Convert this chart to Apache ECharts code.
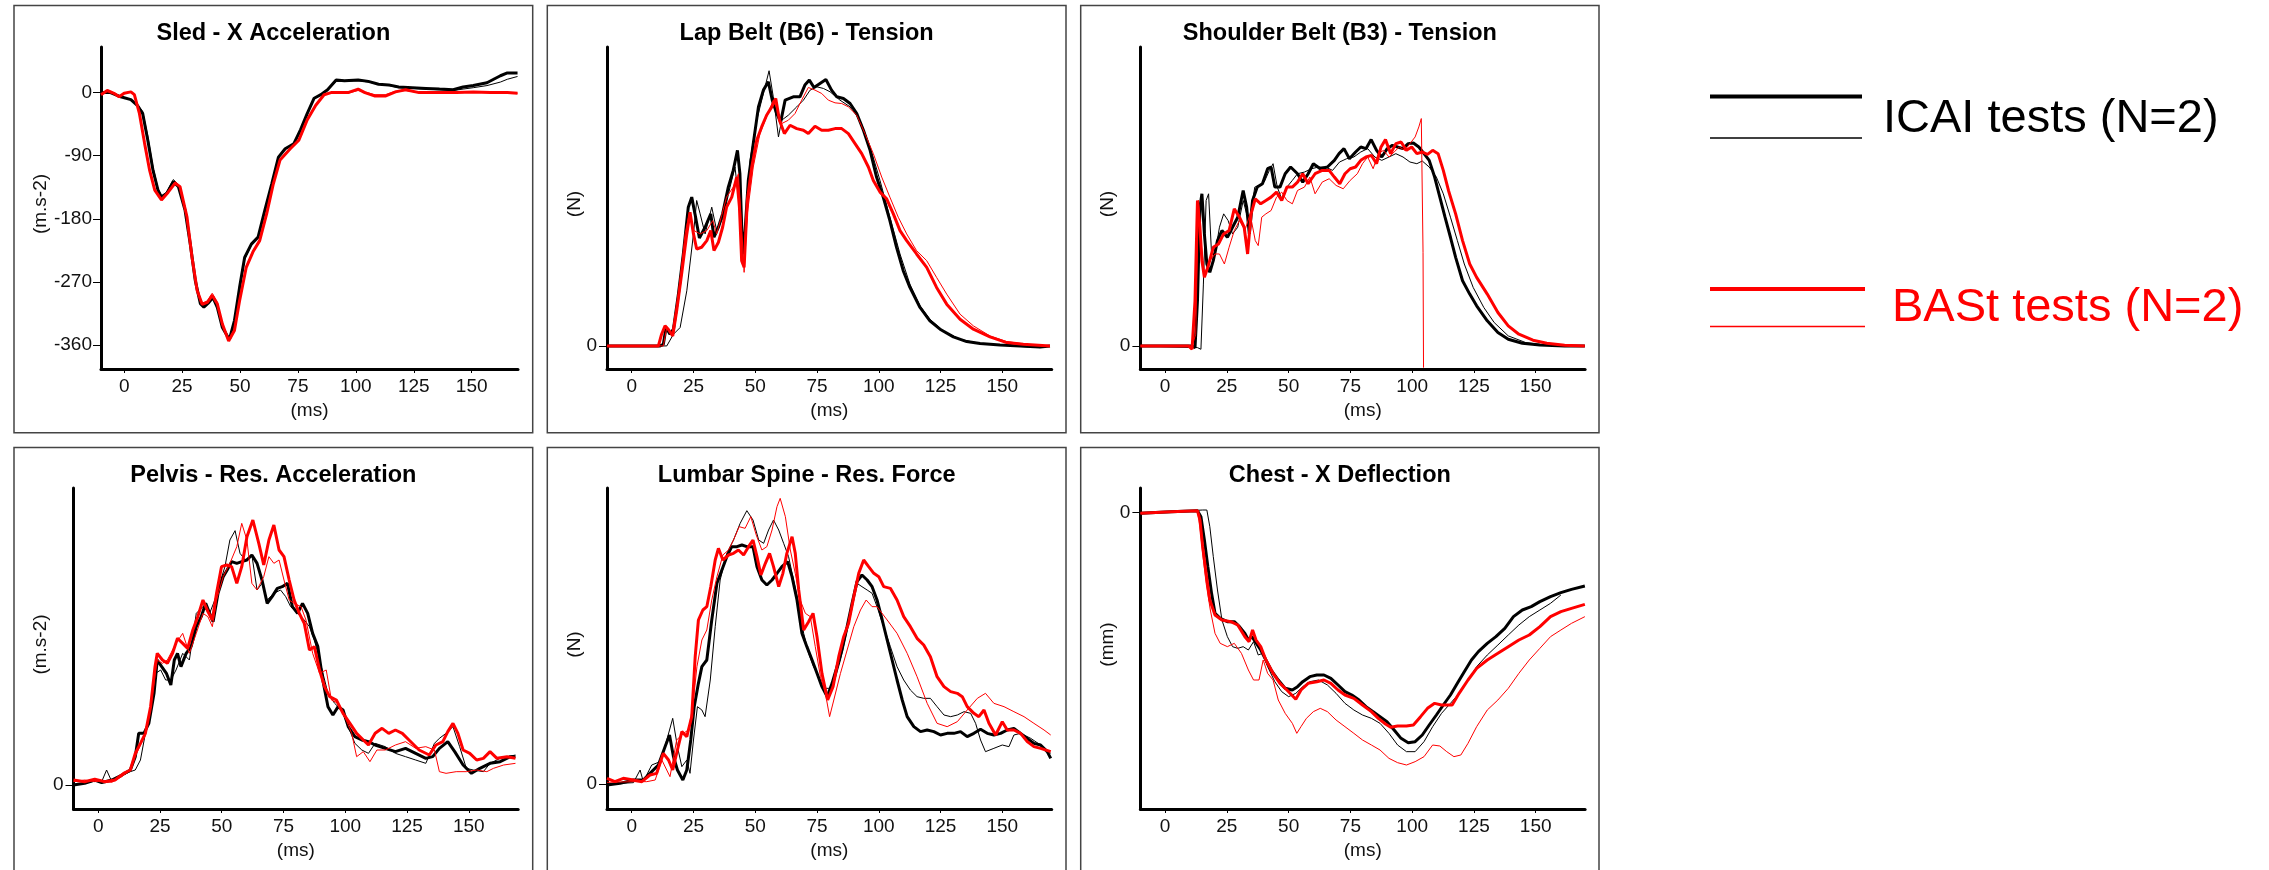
<!DOCTYPE html>
<html>
<head>
<meta charset="utf-8">
<script src="https://cdn.jsdelivr.net/npm/echarts@6/dist/echarts.min.js"></script>
<style>html,body{margin:0;padding:0;background:#fff}#c{width:2269px;height:870px}</style>
</head>
<body>
<div id="c"></div>
<script>
// ---------------- DATA (time in ms, value in panel units) ----------------
const xTickValues = [0, 25, 50, 75, 100, 125, 150];
const sledTickValues = [0, -90, -180, -270, -360];
const zeroTick = [0];

// Sled - X Acceleration (m.s-2)
const sledIcai1 = [[-10,0],[-5.9,0],[-1.5,-6],[2.9,-10],[5.9,-19],[8,-30],[10.2,-68],[12.4,-110],[14.6,-139],[16.1,-149],[18.3,-144],[21.2,-127],[23.4,-134],[26.3,-168],[28.5,-215],[30.7,-268],[32.9,-301],[34.4,-306],[36.6,-299],[38.3,-292],[40.2,-306],[42.4,-335],[45.4,-352],[47.6,-325],[49.8,-278],[52,-235],[54.9,-216],[57.8,-206],[60.7,-168],[63.7,-130],[66.6,-92],[69.5,-80],[73.2,-73],[76.1,-53],[79,-30],[82,-8],[84.9,-3],[87.8,4],[91.5,18],[95.1,17],[101,18],[105.4,16],[109.8,12],[114.2,11],[118.5,8],[124.4,7],[130.3,6],[136.1,5],[142,4],[146.3,8],[150.7,10],[156.6,14],[162.4,24],[165.4,28],[169.8,28]];
const sledIcai2 = [[-10,0],[-5.9,0],[-1.5,-5],[2.9,-10],[5.9,-18],[8,-27],[10.2,-62],[12.4,-105],[14.6,-137],[16.1,-147],[18.3,-142],[21.2,-124],[23.4,-131],[26.3,-165],[28.5,-210],[30.7,-264],[32.9,-299],[34.4,-305],[36.6,-297],[38.3,-289],[40.2,-304],[42.4,-333],[45.4,-352],[47.6,-328],[49.8,-283],[52,-238],[54.9,-217],[57.8,-207],[60.7,-170],[63.7,-131],[66.6,-93],[69.5,-80],[73.2,-73],[76.1,-55],[79,-31],[82,-9],[84.9,-3],[87.8,3],[91.5,16],[95.1,16],[101,17],[105.4,15],[109.8,12],[114.2,10],[118.5,7],[124.4,6],[130.3,5],[136.1,4],[142,3],[146.3,5],[150.7,7],[156.6,10],[162.4,15],[165.4,19],[169.8,23]];
const sledBast1 = [[-10,-3],[-7.3,3],[-4.4,-1],[-2.2,-6],[0,-1],[2.9,1],[4.4,-3],[6.6,-30],[8.8,-72],[11,-111],[13.2,-139],[16.1,-153],[19,-142],[22,-129],[24.1,-134],[27.1,-177],[29.3,-235],[31.5,-282],[33.7,-302],[35.9,-299],[38,-289],[40.2,-301],[42.4,-330],[45.1,-354],[47.6,-339],[49.8,-297],[52.7,-249],[55.6,-227],[58.5,-211],[61.5,-173],[64.4,-130],[67.3,-96],[71.7,-80],[75.4,-68],[79,-39],[82.7,-18],[86.3,-3],[89.3,0],[92.2,0],[96.6,0],[101,5],[103.9,0],[108.3,-5],[112.7,-5],[117.1,1],[121.5,4],[127.3,0],[136.1,0],[143.4,0],[150.7,1],[158,0],[165.4,0],[169.8,-1]];
const sledBast2 = [[-10,-2],[-7.3,2],[-4.4,-2],[-2.2,-5],[0,-1],[2.9,1],[4.4,-2],[6.6,-28],[8.8,-70],[11,-109],[13.2,-138],[16.1,-151],[19,-141],[22,-127],[24.1,-133],[27.1,-175],[29.3,-232],[31.5,-280],[33.7,-300],[35.9,-297],[38,-286],[40.2,-299],[42.4,-329],[45.1,-352],[47.6,-337],[49.8,-295],[52.7,-247],[55.6,-226],[58.5,-209],[61.5,-171],[64.4,-128],[67.3,-95],[71.7,-79],[75.4,-66],[79,-38],[82.7,-17],[86.3,-3],[89.3,0],[92.2,-1],[96.6,-1],[101,3],[103.9,1],[108.3,-3],[112.7,-3],[117.1,2],[121.5,3],[127.3,0],[136.1,0],[143.4,0],[150.7,1],[158,0],[165.4,0],[169.8,-1]];

// Lap Belt (B6) - Tension (N, relative units)
const lapIcai1 = [[-10,0],[11.5,0],[12.8,5],[13.9,55],[15.5,35],[16.9,50],[18.9,155],[20.9,275],[22.9,415],[24.3,445],[25.6,395],[27.4,323],[29.7,355],[32,395],[33.3,325],[35.1,355],[36.8,395],[39.1,475],[41.1,525],[42.8,585],[43.8,515],[44.9,275],[45.9,345],[47.2,495],[49.2,605],[51.3,715],[53.3,765],[55.3,790],[56.9,735],[58.7,695],[60.3,670],[62.1,735],[65.4,745],[68.1,745],[70.1,780],[71.9,795],[73.8,773],[76.2,785],[78.6,797],[80.9,765],[83,745],[85.7,740],[88.4,725],[91.1,695],[93.8,645],[96.5,585],[99.1,505],[101.8,445],[104.5,375],[107.2,295],[109.9,225],[112.6,175],[116.7,115],[120.7,75],[124.8,50],[130.2,27],[135.6,13],[141,7],[149.1,3],[157.2,0],[165.3,-3],[169.3,0]];
const lapIcai2 = [[-10,0],[14.2,0],[16.9,35],[19.6,55],[22.3,165],[25,335],[26.3,435],[27.7,395],[29.7,335],[32.4,415],[34.4,345],[37.1,385],[39.8,475],[41.8,535],[43.5,425],[44.7,255],[45.9,335],[47.9,555],[50.6,675],[53.3,755],[55.6,823],[57.3,745],[59.4,625],[60.7,675],[63.4,690],[66.8,715],[69.5,735],[72.2,765],[74.9,775],[77.6,770],[80.3,760],[84.3,735],[88.4,715],[92.4,675],[96.5,595],[100.5,495],[104.5,385],[108.6,275],[112.6,185],[116.7,120],[120.7,80],[126.1,45],[132.9,20],[141,7],[151.8,1],[165.3,-5],[169.3,0]];
const lapBast1 = [[-10,0],[10.8,0],[12.1,35],[13.5,60],[14.8,50],[16.6,30],[18.2,105],[20.2,215],[22.3,335],[23.6,400],[25,335],[26.3,290],[28.3,295],[30.4,315],[32,345],[33.3,285],[35.1,310],[36.8,355],[38.4,415],[40.5,445],[42.5,505],[43.6,415],[44.5,255],[45.5,235],[46.8,435],[48.6,535],[50.6,615],[52.6,655],[54.6,690],[56.7,715],[58.3,740],[59.8,675],[61.8,635],[64.1,660],[66.8,650],[69.5,645],[71.5,635],[74.2,657],[76.9,645],[79.6,645],[82.3,650],[85,650],[87.7,635],[90.4,605],[93.1,575],[95.8,535],[97.8,495],[100.5,460],[103.2,440],[105.9,395],[108.6,345],[111.3,315],[115.3,275],[119.4,235],[123.4,175],[127.5,125],[132.9,80],[138.3,50],[145,27],[151.8,10],[158.5,5],[169.3,0]];
const lapBast2 = [[-10,0],[12.8,0],[14.2,55],[16.2,35],[18.9,155],[21.6,335],[23.3,395],[25.2,345],[27.7,335],[30.4,345],[32.8,375],[34.4,335],[36.4,390],[38.4,445],[41.1,475],[43.2,515],[44.5,355],[45.5,220],[46.8,395],[49.2,535],[51.9,635],[54.6,685],[57.3,735],[59,705],[60.7,665],[63.4,675],[66.1,695],[68.8,735],[71.5,773],[74.2,765],[76.9,755],[79.6,735],[82.3,727],[85,725],[87.7,715],[91.1,690],[94.4,635],[97.8,575],[101.2,505],[104.5,445],[107.9,385],[111.3,335],[115.3,285],[119.4,255],[123.4,205],[127.5,155],[132.9,95],[138.3,60],[145,30],[151.8,13],[159.9,5],[169.3,0]];

// Shoulder Belt (B3) - Tension (N, relative units)
const shIcai1 = [[-10,0],[10.9,0],[12.1,-5],[13.1,135],[14.1,415],[14.9,455],[15.9,335],[16.9,245],[18.1,220],[19.5,255],[21.2,315],[23,345],[25.2,325],[27.3,355],[29.4,385],[31.6,465],[33,415],[34.1,335],[35.4,435],[37.3,475],[39.4,485],[41.5,530],[42.9,535],[44.4,475],[46.5,475],[48.6,515],[50.8,535],[53.6,515],[55.7,490],[57.9,515],[60,545],[62.8,530],[65.7,535],[68.5,555],[70.4,575],[72.4,590],[74.6,560],[77.1,580],[79.2,595],[81.3,590],[83.4,617],[85.6,585],[87.7,565],[89.9,590],[92,600],[94.1,595],[96.3,590],[98.4,605],[100.5,607],[102.7,595],[104.8,575],[106.9,555],[109.1,505],[111.2,445],[113.3,385],[115.5,325],[117.6,265],[120.4,195],[123.3,155],[126.1,120],[130.4,75],[134.7,40],[138.9,20],[144.6,8],[151.7,3],[161.7,0],[169.9,0]];
const shIcai2 = [[-10,0],[13.1,-5],[14.5,-10],[15.5,185],[16.6,435],[17.6,455],[18.8,275],[20.2,275],[22,355],[23.7,395],[25.5,375],[27.3,335],[29.4,355],[31.6,435],[33,395],[34.4,385],[36.3,475],[38,480],[40.1,490],[42.2,525],[43.7,545],[45.4,475],[47.2,440],[49.3,475],[51.5,495],[53.6,515],[56.4,520],[59.3,530],[62.1,535],[65,535],[67.8,525],[70.6,550],[73.5,560],[76.4,565],[79.2,580],[82,590],[84.9,565],[87.7,555],[90.6,565],[93.4,575],[96.3,565],[99.1,550],[101.9,545],[104.1,553],[106.9,535],[109.8,505],[112.6,455],[115.5,385],[118.3,315],[121.1,245],[124.7,175],[129,115],[133.2,70],[138.9,30],[146,10],[154.5,2],[169.9,0]];
const shBast1 = [[-10,0],[9.5,0],[10.9,-10],[12.1,135],[13.1,435],[14.1,355],[14.9,255],[15.9,205],[17.3,235],[19.5,295],[21.6,305],[23.7,335],[25.9,345],[28,410],[30.1,385],[32,355],[33.4,275],[34.8,395],[36.5,440],[38.7,425],[40.8,435],[42.9,445],[45.1,460],[47.2,435],[49.3,475],[51.5,475],[53.6,490],[55.7,515],[57.9,485],[60.7,515],[63.6,525],[66.4,525],[68.5,505],[70.7,485],[72.8,515],[74.9,530],[77.1,535],[79.2,555],[81.3,565],[83.5,570],[85.6,545],[87.4,595],[89.2,617],[91.3,575],[93.4,605],[95.5,610],[97.7,585],[99.8,595],[101.9,575],[104.1,580],[106.2,573],[108.3,585],[110.5,575],[112.6,525],[114.7,465],[117.6,395],[120.4,315],[123.3,245],[126.1,205],[130.4,155],[134.7,100],[138.9,60],[143.2,35],[148.9,17],[154.5,8],[161.7,2],[169.9,0]];
const shBast2 = [[-10,0],[10.9,0],[12.4,35],[13.5,435],[14.5,315],[15.9,215],[18.1,255],[20.2,275],[22,275],[24,245],[25.9,295],[28,345],[30.1,375],[32.3,345],[34.4,395],[36.5,315],[37.7,300],[39.1,385],[40.8,395],[42.9,405],[45.1,445],[47.2,460],[49.3,435],[51.5,425],[53.6,465],[56.4,475],[58.6,505],[60.7,455],[63.6,490],[66.4,500],[69.2,480],[72.1,470],[74.9,495],[77.8,515],[79.9,545],[82,565],[84.2,530],[86.3,575],[88.4,585],[90.6,565],[92.7,580],[94.8,595],[97,585],[99.1,605],[101.2,625],[102.7,655],[103.7,680],[104.4,280],[104.6,-65]];

// Pelvis - Res. Acceleration (m.s-2, relative units)
const pelIcai1 = [[-10,0],[-5.5,5],[-1.4,15],[1.4,7],[5.5,15],[9.6,30],[13,45],[15,85],[16.4,155],[18.5,155],[20.5,185],[22.6,275],[23.9,375],[25.7,355],[27.6,335],[29.4,300],[30.8,375],[32.1,395],[33.5,355],[35.6,395],[37.6,415],[39.7,475],[41.7,505],[43.5,545],[45.1,515],[46.5,490],[48.5,575],[50.6,625],[52.2,645],[54,670],[56.1,665],[58.1,670],[60.2,675],[62.2,690],[64.3,665],[66.3,615],[68.4,545],[70.4,565],[72.5,590],[74.5,595],[76.6,605],[78.6,535],[80.7,515],[82.7,545],[84.8,515],[86.8,455],[88.9,415],[90.9,315],[93,235],[95,210],[97.1,235],[99.1,225],[101.2,175],[103.9,145],[106.7,135],[109.4,130],[112.1,120],[116.2,110],[120.3,100],[124.4,110],[128.5,95],[132.6,80],[135.4,85],[138.1,110],[141.5,130],[144.3,100],[147.7,60],[151.1,35],[154.5,50],[158.6,65],[162.7,70],[166.8,85],[168.9,85]];
const pelIcai2 = [[-10,2],[-5.5,5],[-1.4,12],[1.4,10],[3.4,45],[5.5,10],[9.6,28],[13,40],[15,45],[17.1,75],[19.1,155],[21.2,235],[23.2,335],[25.3,345],[27.3,315],[29.4,315],[31.5,345],[34.2,395],[36.9,375],[39.7,515],[42.4,535],[45.1,515],[47.2,555],[49.2,605],[51.3,655],[53.3,735],[55.4,763],[57.4,695],[59.5,675],[62.2,690],[64.3,585],[66.3,605],[68.4,555],[71.1,575],[73.8,585],[75.9,565],[77.9,535],[80.7,515],[83.4,495],[85.5,475],[87.5,435],[90.3,355],[93,275],[95.7,245],[98.5,225],[101.2,175],[103.9,125],[106.7,105],[109.4,95],[112.1,125],[116.2,115],[120.3,95],[124.4,85],[128.5,75],[132.6,65],[136.1,125],[138.1,140],[140.8,155],[143.6,175],[146.3,115],[149,50],[151.8,45],[155.9,40],[158.6,65],[162.7,80],[168.9,90]];
const pelBast1 = [[-10,15],[-5.5,10],[-1.4,17],[2.7,10],[6.8,15],[10.3,35],[13,45],[15,95],[17.1,125],[19.1,155],[21.2,235],[23,355],[23.9,395],[26,375],[28,365],[30.1,395],[32.1,440],[34.2,425],[36.2,410],[38.3,465],[40.3,505],[42.4,555],[44.4,520],[46.2,495],[47.9,575],[49.9,655],[52,660],[54,655],[56.1,605],[58.1,655],[60.2,745],[62.6,795],[65,725],[67,660],[69.1,735],[71.1,780],[73.2,705],[75.2,685],[77.3,615],[79.3,555],[81.4,515],[83.4,485],[85.5,405],[87.5,415],[89.6,345],[91.6,295],[93.7,265],[96.4,255],[99.1,215],[101.9,185],[104.6,155],[107.3,135],[109.4,120],[112.1,155],[114.9,170],[117.6,155],[120.3,165],[123.1,155],[125.8,135],[129.9,105],[134,90],[136.7,120],[139.5,130],[141.5,160],[143.6,185],[145.6,155],[147.7,105],[150.4,95],[153.2,75],[155.9,80],[158.6,100],[161.4,80],[165.5,85],[168.9,80]];
const pelBast2 = [[-10,10],[-5.5,15],[-1.4,10],[1.4,12],[5.5,8],[9.6,25],[13,45],[15,85],[17.1,120],[19.1,150],[21.2,230],[23.2,340],[23.9,375],[26,365],[28,375],[31.5,425],[34.2,455],[36.9,395],[39.7,455],[42.4,515],[44.4,505],[46.2,475],[47.9,555],[50.6,625],[53.3,665],[56.1,715],[58.1,785],[60.2,735],[62.2,605],[64.3,585],[67,625],[69.1,685],[71.1,665],[73.2,675],[75.2,615],[77.3,555],[79.3,545],[82.1,535],[84.1,495],[86.8,395],[89.6,335],[92.3,345],[94.4,255],[97.1,245],[99.8,205],[102.6,155],[104.6,85],[107.3,100],[110,70],[112.8,105],[116.2,105],[120.3,120],[124.4,130],[128.5,110],[132.6,115],[136.1,105],[138.1,40],[140.8,35],[144.9,40],[149,40],[153.2,45],[157.3,40],[160,50],[164.1,60],[168.9,65]];

// Lumbar Spine - Res. Force (N, relative units)
const lumIcai1 = [[-10,-3],[-4.7,2],[0.7,12],[4.7,12],[8.1,37],[10.8,57],[13.5,112],[15.3,147],[16.9,82],[18.5,42],[20.7,12],[22.3,42],[23.9,132],[25.3,232],[27,302],[28.4,352],[30.4,372],[32.4,492],[34.5,602],[36.5,642],[38.5,682],[40.5,712],[42.6,712],[44.6,717],[46.6,712],[49.1,712],[50.7,652],[52.7,612],[54.7,597],[56.8,612],[58.8,632],[60.8,652],[63.1,667],[64.9,622],[66.9,552],[68.9,452],[70.9,412],[73,372],[75,332],[77,292],[79.1,262],[81.1,302],[83.1,352],[85.1,402],[87.2,472],[89.2,542],[91.2,607],[93.2,627],[95.3,612],[97.3,592],[99.3,552],[101.4,492],[103.4,432],[105.4,372],[107.4,312],[109.5,252],[111.5,202],[114.2,172],[116.9,157],[119.6,162],[122.3,157],[125,147],[127.7,152],[130.4,152],[133.1,157],[135.8,142],[138.5,152],[141.2,164],[143.9,152],[146.6,147],[149.3,152],[152,162],[154.7,167],[157.4,152],[160.1,137],[162.8,122],[165.5,117],[168.2,97],[169.6,77]];
const lumIcai2 = [[-10,0],[0.7,4],[3.4,42],[4.7,7],[8.1,57],[11.5,67],[14.2,132],[16.6,197],[18.5,112],[20.3,52],[22.3,72],[23.6,32],[25,132],[26.6,232],[28.4,222],[29.7,202],[31.8,312],[33.8,472],[35.8,612],[38.5,692],[41.2,732],[43.9,782],[46.6,820],[49.1,792],[51.4,732],[53.4,722],[55.4,762],[57.4,792],[59.5,762],[61.5,722],[63.5,682],[65.5,612],[67.6,542],[69.6,452],[71.6,392],[73.6,352],[75.7,322],[77.7,287],[79.7,287],[81.8,302],[84.5,372],[87.2,462],[89.2,542],[91.2,602],[93.2,592],[95.3,582],[97.3,572],[99.3,532],[102,472],[104.7,412],[107.4,352],[110.1,312],[112.8,282],[115.5,262],[118.2,257],[120.9,257],[123.6,232],[126.4,207],[129.1,202],[131.8,207],[134.5,217],[137.2,212],[139.2,182],[141.2,132],[143.2,97],[146.6,107],[150,117],[152.7,112],[154.7,147],[157.4,152],[161.5,137],[165.5,117],[169.6,92]];
const lumBast1 = [[-10,17],[-6.8,7],[-3.4,17],[0.7,12],[4.1,7],[7.4,27],[10.1,32],[12.8,92],[14.9,72],[16.6,42],[18.5,102],[20.3,157],[22.3,142],[24.3,202],[25.7,382],[27,492],[28.8,522],[30.4,532],[32,592],[33.8,672],[35.1,707],[36.9,672],[39.2,687],[41.2,692],[43.2,702],[45.3,687],[47.3,712],[49.1,732],[50.7,682],[52.3,627],[54.1,662],[55.8,692],[57.4,652],[59.5,592],[61.2,632],[62.8,692],[64.9,742],[66.2,692],[67.6,582],[69.6,462],[71.6,487],[73.4,512],[75,442],[77,332],[79.3,252],[81.5,292],[83.8,382],[85.8,442],[87.8,482],[89.9,562],[91.9,632],[93.9,672],[95.9,652],[98,632],[100,622],[102,592],[104.7,587],[107.4,552],[110.1,502],[112.8,472],[115.5,437],[118.2,417],[120.9,382],[123.6,322],[126.4,292],[129.1,277],[131.8,272],[133.8,262],[135.8,232],[138.5,212],[140.5,202],[142.6,222],[144.6,182],[147.3,147],[150,187],[152,162],[154.7,162],[157.4,152],[160.1,127],[162.8,112],[165.5,107],[169.6,97]];
const lumBast2 = [[-10,5],[0.7,7],[6.1,7],[9.5,12],[12.2,72],[15.5,22],[18.2,132],[20.9,152],[23,162],[24.7,232],[26.4,352],[28.4,432],[30.4,462],[32.4,552],[34.5,622],[36.9,687],[39.2,702],[41.2,732],[43.5,772],[45.9,767],[48.2,802],[50.4,747],[52.7,702],[54.7,712],[56.8,762],[58.8,832],[60.1,857],[62.2,802],[64.2,702],[66.2,632],[68.2,552],[70.3,512],[72.3,502],[74.3,412],[76.4,322],[78.4,272],[80.1,202],[81.8,252],[84.5,332],[87.2,402],[89.9,472],[92.6,522],[94.9,552],[97.3,532],[99.3,532],[103.4,492],[107.4,452],[111.5,392],[115.5,322],[119.6,242],[123.6,182],[127.7,172],[131.8,187],[135.8,222],[139.9,257],[143.2,272],[146.6,242],[150.7,232],[154.7,217],[158.8,202],[162.8,182],[166.9,162],[169.6,147]];

// Chest - X Deflection (mm, relative units)
const chIcai1 = [[-10,-2],[2.4,3],[13.1,6],[14.5,-12],[15.9,-82],[17.3,-162],[18.8,-242],[20.2,-302],[22.3,-317],[25.2,-327],[28,-327],[30.1,-342],[32.3,-362],[33.7,-382],[35.1,-372],[36.5,-387],[38.7,-412],[40.8,-442],[42.9,-472],[45.8,-502],[48.6,-527],[51.5,-532],[53.6,-522],[55.7,-507],[58.6,-492],[61.4,-487],[64.3,-487],[67.1,-497],[70,-517],[72.8,-537],[75.6,-547],[78.5,-562],[81.3,-582],[84.2,-597],[87,-612],[89.8,-627],[92.7,-652],[95.5,-677],[98.4,-690],[101.2,-687],[104.1,-667],[106.9,-637],[109.8,-607],[112.6,-577],[115.5,-547],[118.3,-512],[121.1,-477],[124,-442],[126.8,-417],[130.4,-392],[133.9,-372],[137.5,-347],[141,-312],[144.6,-292],[148.2,-282],[151.7,-267],[156,-252],[160.2,-240],[164.5,-230],[169.9,-220]];
const chIcai2 = [[-10,-2],[2.4,3],[15.2,8],[16.9,8],[18.1,-42],[19.5,-132],[21.2,-232],[23,-322],[25.2,-372],[27.3,-402],[29.4,-407],[31.6,-402],[33.7,-412],[35.8,-387],[37.7,-427],[39.4,-422],[41.5,-462],[44.4,-507],[47.2,-537],[50,-552],[52.9,-542],[55.7,-522],[58.6,-507],[62.1,-502],[65.7,-517],[69.2,-542],[72.8,-572],[76.4,-592],[79.9,-607],[83.5,-617],[87,-632],[90.6,-662],[94.1,-697],[97.7,-717],[101.2,-717],[104.8,-687],[108.3,-642],[111.9,-602],[115.5,-572],[119,-542],[122.6,-502],[126.1,-462],[130.4,-427],[134.7,-397],[138.9,-367],[143.2,-337],[147.4,-312],[151.7,-292],[156,-272],[160.2,-247]];
const chBast1 = [[-10,-2],[2.4,3],[13.1,6],[14.1,-22],[15.2,-102],[16.6,-182],[18.1,-262],[20.2,-307],[23,-322],[26.6,-327],[29.4,-337],[32.3,-372],[34,-387],[35.4,-352],[36.8,-382],[38.7,-402],[40.8,-442],[43.7,-482],[46.5,-512],[49.3,-532],[52.9,-560],[55,-532],[57.9,-512],[61.4,-507],[64.3,-502],[67.1,-512],[70,-532],[72.8,-547],[76.4,-557],[79.9,-577],[83.5,-597],[86.3,-617],[89.2,-634],[91.3,-644],[94.1,-640],[97.7,-640],[100.5,-637],[103.4,-612],[106.2,-587],[109.1,-572],[111.9,-577],[116.2,-577],[119,-542],[122.6,-502],[126.1,-467],[130.4,-442],[134.7,-422],[138.9,-402],[143.2,-382],[147.4,-367],[151.7,-342],[156,-312],[160.2,-297],[164.5,-287],[169.9,-275]];
const chBast2 = [[-10,-2],[2.4,3],[13.1,6],[14.1,-42],[15.2,-122],[16.6,-212],[18.3,-292],[20.2,-362],[22.3,-392],[25.2,-402],[28,-392],[30.9,-422],[33.7,-472],[35.8,-502],[38,-502],[39.7,-442],[41.5,-482],[43.7,-502],[45.8,-562],[48.6,-602],[51.5,-632],[53.3,-662],[55,-642],[57.2,-617],[60,-597],[62.8,-587],[65.7,-597],[69.2,-622],[72.8,-642],[76.4,-662],[79.9,-682],[83.5,-697],[87,-712],[90.6,-737],[94.1,-750],[97.7,-757],[101.2,-747],[104.8,-732],[108.3,-697],[111.2,-700],[114,-717],[116.9,-732],[119.7,-727],[122.6,-692],[126.1,-642],[130.4,-592],[134.7,-562],[138.9,-527],[143.2,-482],[147.4,-442],[151.7,-407],[156,-372],[160.2,-352],[164.5,-332],[169.9,-312]];

const legendLabels = ['ICAI tests (N=2)', 'BASt tests (N=2)'];

// ---------------- LAYOUT ----------------
const FONT = '"Liberation Sans", Arial, Helvetica, sans-serif';
const panels = [
  {title:'Sled - X Acceleration', unit:'(m.s-2)', box:[14,5.5,518.7,427.2], grid:[101,47,417,322], yr:[-394,65], yt:sledTickValues, lines:[sledIcai1,sledIcai2,sledBast1,sledBast2], lm:9},
  {title:'Lap Belt (B6) - Tension', unit:'(N)', box:[547.3,5.5,518.7,427.2], grid:[607,47,444.7,322], yr:[-69,894], yt:zeroTick, lines:[lapIcai1,lapIcai2,lapBast1,lapBast2], lm:10},
  {title:'Shoulder Belt (B3) - Tension', unit:'(N)', box:[1080.7,5.5,518.3,427.2], grid:[1140.4,47,444.7,322], yr:[-69,894], yt:zeroTick, lines:[shIcai1,shIcai2,shBast1,shBast2], lm:10},
  {title:'Pelvis - Res. Acceleration', unit:'(m.s-2)', box:[14,447.5,518.7,440], grid:[73.5,488,444.7,321], yr:[-72,891], yt:zeroTick, lines:[pelIcai1,pelIcai2,pelBast1,pelBast2], lm:10},
  {title:'Lumbar Spine - Res. Force', unit:'(N)', box:[547.3,447.5,518.7,440], grid:[607,488,444.7,321], yr:[-75,888], yt:zeroTick, lines:[lumIcai1,lumIcai2,lumBast1,lumBast2], lm:10},
  {title:'Chest - X Deflection', unit:'(mm)', box:[1080.7,447.5,518.3,440], grid:[1140.4,488,444.7,321], yr:[-889,74], yt:zeroTick, lines:[chIcai1,chIcai2,chBast1,chBast2], lm:10}
];
const styles = [
  {color:'#000000', width:3, z:3},
  {color:'#000000', width:1, z:2},
  {color:'#ff0000', width:3, z:5},
  {color:'#ff0000', width:1, z:4}
];

const grids = [], xAxes = [], yAxes = [], series = [], graphics = [];
panels.forEach((p, i) => {
  const [gl, gt, gw, gh] = p.grid;
  grids.push({left:gl, top:gt, width:gw, height:gh, containLabel:false});
  xAxes.push({
    type:'value', gridIndex:i, min:-10, max:170,
    splitLine:{show:false},
    axisLine:{show:true, onZero:false, lineStyle:{color:'#000', width:3}},
    axisTick:{show:true, length:4, lineStyle:{color:'#000', width:1}, customValues:xTickValues},
    axisLabel:{show:true, fontSize:19, color:'#111', fontFamily:FONT, margin:8, customValues:xTickValues}
  });
  yAxes.push({
    type:'value', gridIndex:i, min:p.yr[0], max:p.yr[1],
    splitLine:{show:false},
    axisLine:{show:true, onZero:false, lineStyle:{color:'#000', width:3}},
    axisTick:{show:true, length:8, lineStyle:{color:'#000', width:1}, customValues:p.yt},
    axisLabel:{show:true, fontSize:19, color:'#111', fontFamily:FONT, margin:p.lm, customValues:p.yt}
  });
  p.lines.forEach((d, k) => {
    series.push({
      type:'line', xAxisIndex:i, yAxisIndex:i, data:d,
      symbol:'none', showSymbol:false, smooth:false, animation:false,
      z:styles[k].z, silent:true,
      lineStyle:{color:styles[k].color, width:styles[k].width}
    });
  });
  const [bx, by, bw, bh] = p.box;
  graphics.push({type:'rect', shape:{x:bx, y:by, width:bw, height:bh}, style:{fill:'none', stroke:'#444', lineWidth:1.5}, silent:true});
  graphics.push({type:'text', x:bx + bw/2, y:by + 28, style:{text:p.title, font:'bold 23.5px ' + FONT, fill:'#000', align:'center', verticalAlign:'middle'}});
  graphics.push({type:'text', x:bx + 27, y:gt + gh/2 - 4, rotation:Math.PI/2, style:{text:p.unit, font:'19px ' + FONT, fill:'#111', align:'center', verticalAlign:'middle'}});
  graphics.push({type:'text', x:gl + gw/2, y:gt + gh + 42, style:{text:'(ms)', font:'19px ' + FONT, fill:'#111', align:'center', verticalAlign:'middle'}});
});

// Legend
graphics.push({type:'line', shape:{x1:1710, y1:96.5, x2:1862, y2:96.5}, style:{stroke:'#000', lineWidth:4}});
graphics.push({type:'line', shape:{x1:1710, y1:138, x2:1862, y2:138}, style:{stroke:'#000', lineWidth:1.5}});
graphics.push({type:'text', x:1883, y:119, style:{text:legendLabels[0], font:'47px ' + FONT, fill:'#000', align:'left', verticalAlign:'middle'}});
graphics.push({type:'line', shape:{x1:1710, y1:289, x2:1865, y2:289}, style:{stroke:'#ff0000', lineWidth:4}});
graphics.push({type:'line', shape:{x1:1710, y1:326.5, x2:1865, y2:326.5}, style:{stroke:'#ff0000', lineWidth:1.5}});
graphics.push({type:'text', x:1892, y:308, style:{text:legendLabels[1], font:'47px ' + FONT, fill:'#ff0000', align:'left', verticalAlign:'middle'}});

const chart = echarts.init(document.getElementById('c'), null, {renderer:'canvas'});
chart.setOption({
  animation:false,
  backgroundColor:'#ffffff',
  grid:grids, xAxis:xAxes, yAxis:yAxes, series:series,
  graphic:{elements:graphics}
});
</script>
</body>
</html>
